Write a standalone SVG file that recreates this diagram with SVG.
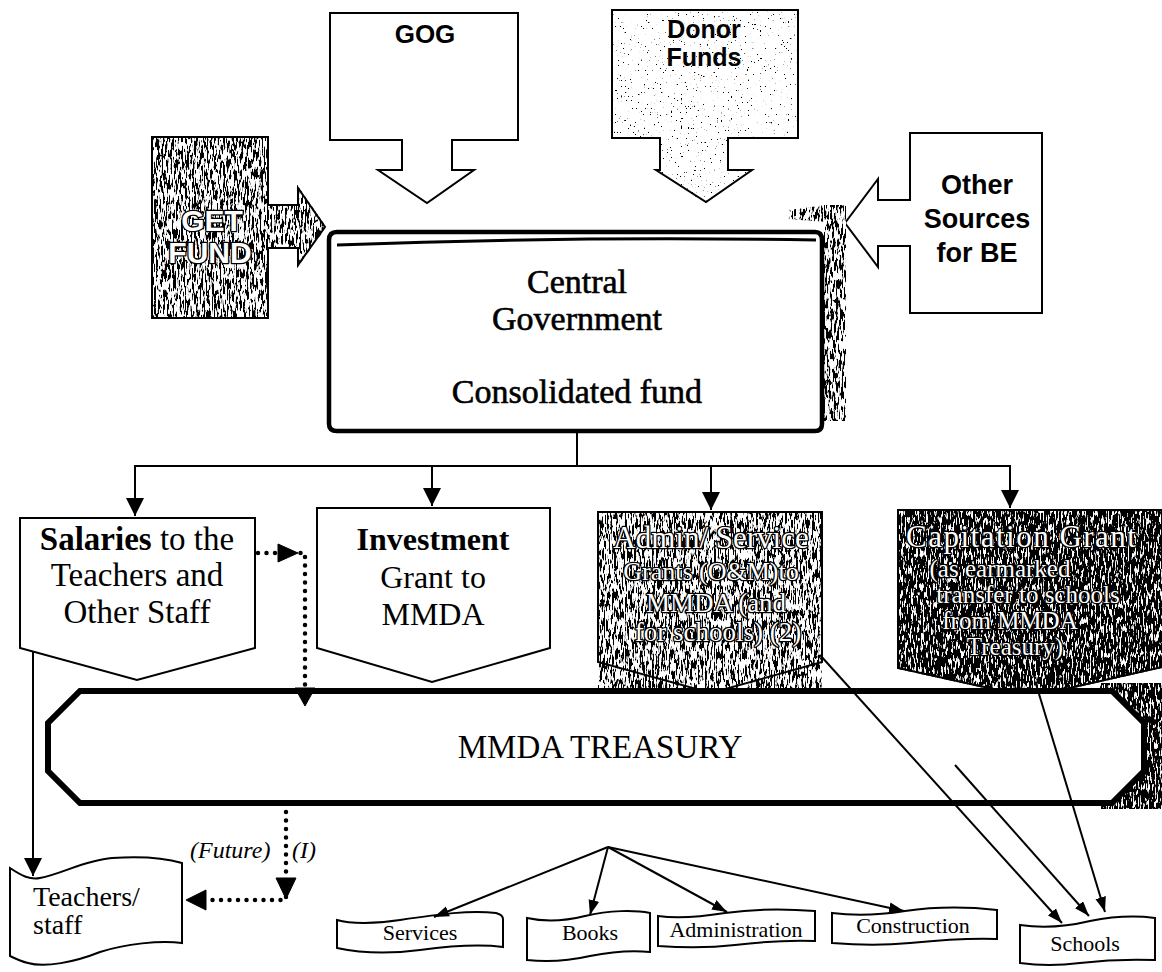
<svg xmlns="http://www.w3.org/2000/svg" width="1162" height="972" viewBox="0 0 1162 972">
  <defs>
    <style>
      .box{fill:#fff;stroke:#000;stroke-width:2;stroke-linejoin:miter}
      .sans{font-family:"Liberation Sans",Arial,sans-serif;font-weight:bold;text-anchor:middle;fill:#000}
      .serif{font-family:"Liberation Serif","Times New Roman",serif;text-anchor:middle;fill:#000}
      .start{text-anchor:start}
      .heavy{stroke:#000;stroke-width:0.6}
      .ink{fill:#fff;stroke:#000;stroke-width:2.6;paint-order:stroke;stroke-linejoin:round}
      .link{fill:none;stroke:#000;stroke-width:2}
      .dots{fill:none;stroke:#000;stroke-width:4.5;stroke-linecap:round;stroke-dasharray:0 8.5}
      .head{fill:#000;stroke:#000;stroke-width:1}
    </style>
    <!-- streaky print grain: black speckles clipped to the shape -->
    <filter id="grainMid">
      <feTurbulence type="fractalNoise" baseFrequency="0.55 0.1" numOctaves="3" seed="4" result="n"/>
      <feColorMatrix in="n" type="matrix" values="0 0 0 0 0 0 0 0 0 0 0 0 0 0 0 -14 0 0 0 7.3" result="s"/>
      <feComposite in="s" in2="SourceAlpha" operator="in" result="c"/>
      <feMerge><feMergeNode in="SourceGraphic"/><feMergeNode in="c"/></feMerge>
    </filter>
    <filter id="grainDark">
      <feTurbulence type="fractalNoise" baseFrequency="0.6 0.12" numOctaves="3" seed="9" result="n"/>
      <feColorMatrix in="n" type="matrix" values="0 0 0 0 0 0 0 0 0 0 0 0 0 0 0 -12 0 0 0 7.6" result="s"/>
      <feComposite in="s" in2="SourceAlpha" operator="in" result="c"/>
      <feMerge><feMergeNode in="SourceGraphic"/><feMergeNode in="c"/></feMerge>
    </filter>
    <filter id="grainLight">
      <feTurbulence type="fractalNoise" baseFrequency="0.7 0.5" numOctaves="2" seed="2" result="n"/>
      <feColorMatrix in="n" type="matrix" values="0 0 0 0 0 0 0 0 0 0 0 0 0 0 0 -20 0 0 0 5.9" result="s"/>
      <feComposite in="s" in2="SourceAlpha" operator="in" result="c"/>
      <feMerge><feMergeNode in="SourceGraphic"/><feMergeNode in="c"/></feMerge>
    </filter>
    <marker id="ah" viewBox="0 0 10 10" refX="10" refY="5" markerWidth="18" markerHeight="18" markerUnits="userSpaceOnUse" orient="auto">
      <path d="M0,0 L10,5 L0,10 z" fill="#000"/>
    </marker>
    <marker id="ahs" viewBox="0 0 14 10" refX="14" refY="5" markerWidth="15" markerHeight="11" markerUnits="userSpaceOnUse" orient="auto">
      <path d="M0,0 L14,5 L0,10 z" fill="#000"/>
    </marker>
  </defs>

  <rect width="1162" height="972" fill="#fff"/>

  <!-- funding sources -->
  <g id="gog">
    <path class="box" d="M330,13 H518 V140 H452 V170 H474 L427,203 L378,170 H402 V140 H330 Z"/>
    <text class="sans" x="425" y="43" font-size="26">GOG</text>
  </g>

  <g id="donor-funds">
    <path class="box" filter="url(#grainLight)" d="M612,10 H798 V138 H728 V170 H752 L706,202 L656,170 H660 V138 H612 Z"/>
    <text class="sans" x="704" y="38" font-size="25">Donor</text>
    <text class="sans" x="704" y="66" font-size="25">Funds</text>
  </g>

  <g id="get-fund">
    <path class="box" filter="url(#grainMid)" d="M152,137 H268 V205 H298 V188 L325,227 L298,265 V248 H268 V318 H152 Z"/>
    <text class="sans ink" x="212" y="231" font-size="30">GET</text>
    <text class="sans ink" x="210" y="263" font-size="30">FUND</text>
  </g>

  <g id="other-sources">
    <path class="box" d="M910,133 H1042 V313 H910 V246 H878 V267 L845,223 L878,179 V200 H910 Z"/>
    <text class="sans" x="977" y="194" font-size="27">Other</text>
    <text class="sans" x="977" y="228" font-size="27">Sources</text>
    <text class="sans" x="977" y="262" font-size="27">for BE</text>
  </g>

  <!-- central government drum -->
  <g id="central-government">
    <path fill="#fff" filter="url(#grainMid)" d="M788,210 L824,205 H846 V421 H824 V222 L788,219 Z"/>
    <path fill="#fff" stroke="#000" stroke-width="4.5" d="M329,240 Q329,232 337,232 H815 Q822,232 822,240 V424 Q822,431 815,431 H337 Q329,431 329,424 Z"/>
    <path fill="none" stroke="#000" stroke-width="3" d="M337,245 Q575,236 816,240"/>
    <text class="serif heavy" x="577" y="293" font-size="34">Central</text>
    <text class="serif heavy" x="577" y="330" font-size="34">Government</text>
    <text class="serif heavy" x="577" y="403" font-size="34">Consolidated fund</text>
  </g>

  <!-- allocation lines -->
  <g id="salaries">
    <polygon class="box" points="20,518 255,518 255,648 137,680 20,648"/>
    <text class="serif" x="137" y="550" font-size="33"><tspan font-weight="bold">Salaries</tspan> to the</text>
    <text class="serif" x="137" y="586" font-size="33">Teachers and</text>
    <text class="serif" x="137" y="623" font-size="33">Other Staff</text>
  </g>

  <g id="investment-grant">
    <polygon class="box" points="317,508 550,508 550,648 432,682 317,648"/>
    <text class="serif" x="433" y="550" font-size="32" font-weight="bold">Investment</text>
    <text class="serif" x="433" y="588" font-size="32">Grant to</text>
    <text class="serif" x="433" y="625" font-size="32">MMDA</text>
  </g>

  <g id="admin-service-grants">
    <rect x="598" y="512" width="224" height="180" fill="#fff" filter="url(#grainMid)"/>
    <polygon class="box" fill-opacity="0" points="598,512 822,512 822,662 711,693 598,662"/>
    <text class="serif ink" x="711" y="548" font-size="31">Admin/ Service</text>
    <text class="serif ink" x="711" y="580" font-size="26">Grants (O&amp;M)to</text>
    <text class="serif ink" x="716" y="612" font-size="27">MMDA (and</text>
    <text class="serif ink" x="718" y="641" font-size="27">for schools) (2)</text>
  </g>

  <g id="capitation-grant">
    <polygon class="box" filter="url(#grainDark)" points="898,510 1166,510 1166,666 1030,697 898,668"/>
    <text class="serif ink start" x="906" y="547" font-size="31" letter-spacing="1.5">Capitation Grant</text>
    <text class="serif ink" x="1000" y="577" font-size="25">(as earmarked</text>
    <text class="serif ink" x="1028" y="603" font-size="25">transfer to schools</text>
    <text class="serif ink" x="1010" y="629" font-size="25">from MMDA</text>
    <text class="serif ink" x="1015" y="655" font-size="25">Treasury)</text>
  </g>

  <!-- district treasury -->
  <g id="mmda-treasury">
    <rect x="1100" y="683" width="62" height="126" fill="#fff" filter="url(#grainDark)"/>
    <polygon fill="#fff" stroke="#000" stroke-width="6" stroke-linejoin="miter" points="80,691 1112,691 1144,723 1144,771 1112,803 80,803 48,771 48,723"/>
    <text class="serif" x="600" y="758" font-size="33">MMDA TREASURY</text>
  </g>

  <!-- end uses -->
  <g id="teachers-staff">
    <path class="box" d="M10,868 C22,876 30,880 40,878 C62,874 85,860 112,858 C140,856 165,858 182,863 V943 C160,940 125,944 100,952 C75,962 45,968 28,963 C20,961 14,958 10,956 Z"/>
    <text class="serif start" x="33" y="906" font-size="28">Teachers/</text>
    <text class="serif start" x="33" y="934" font-size="28">staff</text>
  </g>

  <g id="services">
    <path class="box" d="M337,920 C350,924 375,924 400,920 C440,914 470,910 496,913 C500,914 503,916 503,919 V947 C480,944 450,946 420,950 C390,954 360,953 337,948 Z"/>
    <text class="serif" x="420" y="940" font-size="22">Services</text>
  </g>

  <g id="books">
    <path class="box" d="M527,918 C545,922 565,921 585,916 C610,910 635,910 650,913 V952 C630,950 610,952 590,956 C568,961 545,962 527,960 Z"/>
    <text class="serif" x="590" y="940" font-size="22">Books</text>
  </g>

  <g id="administration">
    <path class="box" d="M658,916 C680,919 700,917 725,913 C760,908 790,909 815,911 V941 C790,940 760,942 735,945 C710,948 685,948 658,946 Z"/>
    <text class="serif" x="736" y="937" font-size="22">Administration</text>
  </g>

  <g id="construction">
    <path class="box" d="M832,913 C855,916 880,915 905,911 C940,906 970,907 997,910 V939 C970,938 940,940 910,943 C880,946 855,945 832,943 Z"/>
    <text class="serif" x="913" y="933" font-size="22">Construction</text>
  </g>

  <g id="schools">
    <path class="box" d="M1020,925 C1040,928 1065,927 1090,921 C1115,916 1140,916 1155,918 V960 C1130,959 1105,960 1080,963 C1055,966 1035,965 1020,963 Z"/>
    <text class="serif" x="1085" y="951" font-size="22">Schools</text>
  </g>

  <!-- flows -->
  <g id="connectors">
    <path class="link" d="M577,431 V466"/>
    <path class="link" d="M577,466 H135 V516" marker-end="url(#ah)"/>
    <path class="link" d="M432,466 V506" marker-end="url(#ah)"/>
    <path class="link" d="M577,466 H1010 V508" marker-end="url(#ah)"/>
    <path class="link" d="M711,466 V510" marker-end="url(#ah)"/>

    <path class="link" d="M33,652 V876" marker-end="url(#ah)"/>

    <path class="dots" d="M258,553 H305 V690"/>
    <polygon class="head" points="278,544 298,553 278,562"/>
    <polygon class="head" points="295,688 315,688 305,706"/>

    <path class="dots" d="M286,812 V900 H208"/>
    <polygon class="head" points="276,878 296,878 286,899"/>
    <polygon class="head" points="206,890 206,910 186,900"/>
    <text class="serif start" x="190" y="858" font-size="24" font-style="italic">(Future)</text>
    <text class="serif start" x="292" y="858" font-size="24" font-style="italic">(I)</text>

    <path class="link" d="M608,847 L434,917" marker-end="url(#ahs)"/>
    <path class="link" d="M608,847 L590,915" marker-end="url(#ahs)"/>
    <path class="link" d="M608,847 L727,912" marker-end="url(#ahs)"/>
    <path class="link" d="M608,847 L904,911" marker-end="url(#ahs)"/>

    <path class="link" d="M820,655 L1062,923" marker-end="url(#ahs)"/>
    <path class="link" d="M955,765 L1089,916" marker-end="url(#ahs)"/>
    <path class="link" d="M1036,684 L1105,912" marker-end="url(#ahs)"/>
  </g>
</svg>
